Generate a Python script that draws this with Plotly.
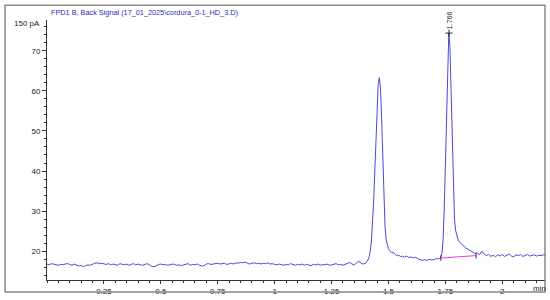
import plotly.graph_objects as go

# ---- data ----
base_t = [round(i * 0.01, 2) for i in range(0, 140)]
base_y = [
    16.8, 16.6, 16.9, 16.7, 16.6, 16.5, 16.7, 16.6, 16.8, 16.9,
    16.7, 16.5, 16.8, 16.6, 16.3, 16.5, 16.1, 16.4, 16.6, 16.5,
    16.8, 17.0, 17.1, 16.9, 17.0, 16.8, 16.7, 16.9, 16.6, 16.8,
    16.7, 16.5, 16.9, 16.7, 16.6, 16.8, 16.5, 16.7, 16.9, 16.6,
    16.8, 16.6, 16.5, 16.7, 16.9, 16.6, 16.2, 16.1, 16.5, 16.7,
    16.8, 16.6, 16.7, 16.5, 16.6, 16.8, 16.7, 16.5, 16.6, 16.4,
    16.6, 16.8, 16.9, 16.5, 16.7, 16.6, 16.8, 16.5, 16.3, 16.4,
    16.8, 16.9, 16.7, 16.8, 16.9, 17.0, 16.8, 16.9, 17.0, 16.7,
    16.9, 17.0, 16.8, 17.1, 17.0, 17.2, 17.1, 17.3, 17.0, 16.8,
    17.0, 17.1, 16.9, 17.0, 16.8, 17.0, 16.9, 17.1, 16.8, 16.9,
    16.7, 16.6, 16.8, 16.7, 16.5, 16.7, 16.6, 16.9, 16.7, 16.5,
    16.7, 16.6, 16.8, 16.5, 16.7, 16.6, 16.4, 16.7, 16.6, 16.8,
    16.5, 16.7, 16.6, 16.8, 16.5, 16.6, 16.7, 16.9, 16.6, 16.7,
    16.5, 16.8, 17.0, 17.2, 16.8, 16.6, 17.1, 17.5, 17.0, 16.8,
]
peak1_t = [1.400, 1.405, 1.410, 1.415, 1.420, 1.425, 1.430, 1.435, 1.440, 1.445,
           1.450, 1.455, 1.460, 1.465, 1.470, 1.475, 1.480, 1.485, 1.490, 1.495,
           1.500, 1.505, 1.510, 1.515, 1.520, 1.525, 1.530, 1.535, 1.540, 1.545,
           1.550, 1.555, 1.560]
peak1_y = [17.0, 17.3, 17.8, 18.6, 20.0, 22.5, 26.5, 32.5, 40.0, 48.5,
           56.5, 61.8, 63.3, 60.5, 53.0, 42.5, 32.5, 26.0, 22.8, 21.3,
           20.6, 20.2, 19.9, 19.6, 19.7, 19.3, 19.2, 18.9, 19.1, 18.8,
           18.9, 18.6, 18.8]
mid_t = [1.57, 1.58, 1.59, 1.60, 1.61, 1.62, 1.63, 1.64, 1.65, 1.66,
         1.67, 1.68, 1.69, 1.70, 1.71, 1.72]
mid_y = [18.5, 18.8, 18.4, 18.6, 18.3, 18.5, 18.1, 17.9, 17.7, 17.9,
         17.7, 18.0, 17.8, 17.9, 18.2, 18.1]
peak2_t = [1.725, 1.730, 1.735, 1.740, 1.745, 1.750, 1.755, 1.760, 1.765, 1.770,
           1.775, 1.780, 1.785, 1.790, 1.795, 1.800, 1.805, 1.810]
peak2_y = [18.2, 18.4, 19.5, 23.0, 30.5, 42.0, 56.0, 68.5, 74.4, 71.0,
           59.5, 45.0, 34.0, 28.0, 25.2, 23.8, 23.0, 22.4]
tail_t = [1.82, 1.83, 1.84, 1.85, 1.86, 1.87, 1.88, 1.89, 1.90, 1.91,
          1.92, 1.93, 1.94, 1.95, 1.96, 1.97, 1.98, 1.99, 2.00, 2.01,
          2.02, 2.03, 2.04, 2.05, 2.06, 2.07, 2.08, 2.09, 2.10, 2.11,
          2.12, 2.13, 2.14, 2.15, 2.16, 2.17, 2.18, 2.19]
tail_y = [21.8, 21.2, 20.8, 20.5, 20.1, 19.8, 19.4, 19.6, 19.1, 20.0,
          19.3, 18.9, 19.2, 18.7, 19.0, 18.6, 19.1, 18.8, 19.2, 18.7,
          18.9, 19.3, 18.8, 18.6, 19.1, 18.9, 19.2, 18.7, 18.9, 19.2,
          18.8, 19.0, 19.1, 18.8, 19.0, 18.9, 19.1, 18.9]

time = base_t + peak1_t + mid_t + peak2_t + tail_t
signal = base_y + peak1_y + mid_y + peak2_y + tail_y

int_base_t = [1.730, 1.885]
int_base_y = [18.3, 18.9]
peak_rt = 1.766
peak_top = 74.4

x_ticks = [0.25, 0.5, 0.75, 1, 1.25, 1.5, 1.75, 2]
x_labels = ["0.25", "0.5", "0.75", "1", "1.25", "1.5", "1.75", "2"]
y_ticks = [20, 30, 40, 50, 60, 70]

title_text = "FPD1 B, Back Signal (17_01_2025\\cordura_0-1_HD_3.D)"

FONT = "Liberation Sans, Arial, sans-serif"
TXT = "#222222"

fig = go.Figure()
fig.add_trace(go.Scatter(x=time, y=signal, mode="lines",
                         line=dict(color="#4a4ad6", width=1),
                         hoverinfo="skip", showlegend=False))
fig.add_trace(go.Scatter(x=int_base_t, y=int_base_y, mode="lines+markers",
                         line=dict(color="#e040d8", width=1),
                         marker=dict(symbol="line-ns", size=4,
                                     line=dict(color="#333333", width=1)),
                         hoverinfo="skip", showlegend=False))
fig.add_trace(go.Scatter(x=[peak_rt], y=[peak_top], mode="markers",
                         marker=dict(symbol="cross-thin", size=5,
                                     line=dict(color="#222222", width=1)),
                         hoverinfo="skip", showlegend=False))

fig.add_annotation(x=peak_rt, y=peak_top, xref="x", yref="y",
                   text=f"{peak_rt:.3f}", textangle=-90, showarrow=False,
                   yanchor="bottom", yshift=2,
                   font=dict(family=FONT, size=7, color=TXT))
fig.add_annotation(x=0, y=1, xref="paper", yref="paper", text="150 pA",
                   showarrow=False, xanchor="right", yanchor="middle",
                   xshift=-5, yshift=-3,
                   font=dict(family=FONT, size=8, color=TXT))
fig.add_annotation(x=1, y=0, xref="paper", yref="paper", text="min",
                   showarrow=False, xanchor="right", yanchor="top",
                   xshift=2, yshift=-2,
                   font=dict(family=FONT, size=8, color=TXT))
fig.add_annotation(x=0.004, y=1.055, xref="paper", yref="paper", text=title_text,
                   showarrow=False, xanchor="left", yanchor="top",
                   font=dict(family=FONT, size=7.3, color="#2a2ac0"))

# outer frame
fig.add_shape(type="rect", xref="paper", yref="paper",
              x0=-0.084, x1=0.998, y0=-0.046, y1=1.057,
              line=dict(color="#888888", width=1.5), fillcolor="rgba(0,0,0,0)")

fig.update_layout(
    width=550, height=300,
    margin=dict(l=47, r=4, t=20, b=18),
    paper_bgcolor="white", plot_bgcolor="white",
    font=dict(family=FONT, size=8, color=TXT),
    xaxis=dict(range=[0, 2.192], tickmode="array", tickvals=x_ticks,
               ticktext=x_labels, ticks="outside", ticklen=3, tickwidth=1,
               tickcolor="#333", showgrid=False, zeroline=False,
               showline=True, linecolor="#333", linewidth=1,
               tickfont=dict(size=8, color=TXT),
               minor=dict(tickmode="linear", tick0=0, dtick=0.05,
                          ticks="outside", ticklen=2, tickcolor="#333",
                          showgrid=False)),
    yaxis=dict(range=[12.82, 77.67], tickmode="array", tickvals=y_ticks,
               ticks="outside", ticklen=4, tickwidth=1, tickcolor="#333",
               showgrid=False, zeroline=False, showline=True,
               linecolor="#333", linewidth=1,
               tickfont=dict(size=8, color=TXT),
               minor=dict(tickmode="linear", tick0=0, dtick=2,
                          ticks="outside", ticklen=2, tickcolor="#333",
                          showgrid=False)),
)

fig.write_html("out.html", config={"displayModeBar": False},
               post_script="document.body.style.margin='0';")
